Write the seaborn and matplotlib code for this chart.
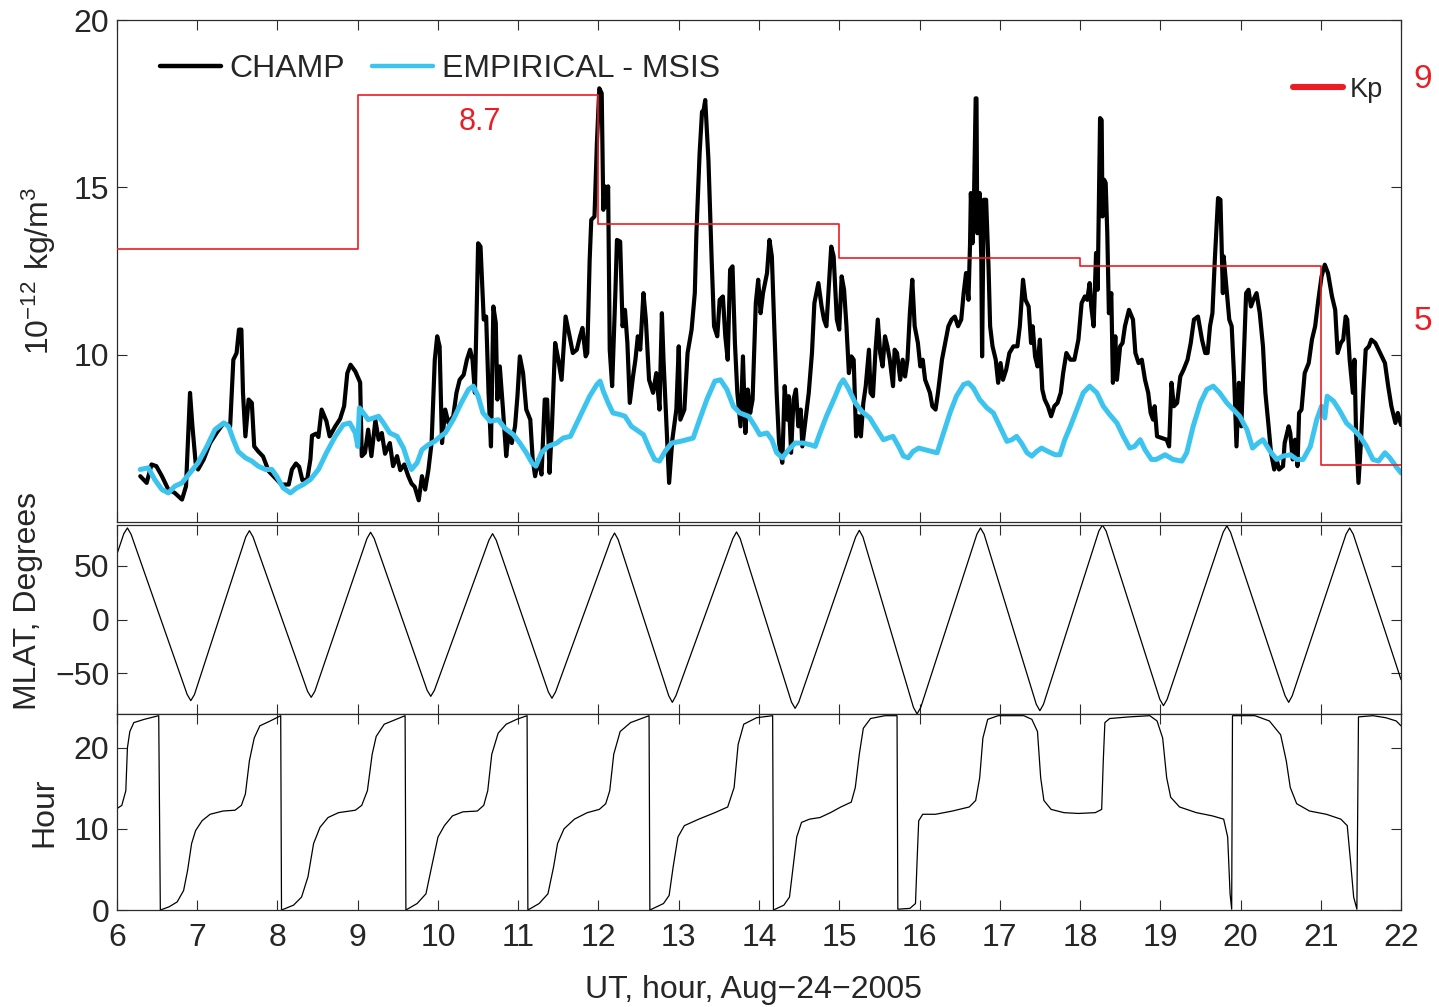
import matplotlib
matplotlib.use("Agg")
import matplotlib.pyplot as plt
import numpy as np
import pandas as pd
import seaborn as sns

# ---------------------------------------------------------------- data
# CHAMP accelerometer density (UT hour, 1e-12 kg/m^3)
champ_points = [
    (6.29, 6.37), (6.37, 6.17), (6.43, 6.72), (6.49, 6.67), (6.56, 6.37), (6.64, 5.97),
    (6.72, 5.87), (6.81, 5.67), (6.86, 6.07), (6.91, 8.86), (6.94, 7.86), (6.98, 6.77),
    (7.01, 6.57), (7.08, 6.87), (7.16, 7.36), (7.24, 7.66), (7.33, 7.96), (7.41, 7.86),
    (7.45, 9.85), (7.49, 10.05), (7.52, 10.75), (7.55, 10.75), (7.57, 8.86), (7.60, 7.56),
    (7.64, 8.66), (7.68, 8.56), (7.71, 7.26), (7.76, 7.11), (7.82, 6.96), (7.89, 6.52),
    (7.97, 6.32), (8.05, 6.12), (8.14, 6.12), (8.18, 6.57), (8.23, 6.75), (8.27, 6.65),
    (8.31, 6.25), (8.37, 6.27), (8.41, 6.87), (8.43, 7.58), (8.48, 7.64), (8.51, 7.54),
    (8.55, 8.36), (8.61, 8.01), (8.65, 7.56), (8.72, 7.86), (8.78, 8.08), (8.83, 8.46),
    (8.87, 9.45), (8.91, 9.70), (8.97, 9.50), (9.03, 9.17), (9.05, 6.97), (9.09, 7.07),
    (9.13, 7.76), (9.17, 6.97), (9.22, 8.04), (9.26, 7.46), (9.30, 7.66), (9.34, 7.04),
    (9.40, 7.36), (9.44, 6.67), (9.49, 6.97), (9.53, 6.55), (9.58, 6.72), (9.63, 6.37),
    (9.67, 6.15), (9.71, 6.05), (9.76, 5.65), (9.80, 6.37), (9.84, 5.97), (9.88, 6.55),
    (9.92, 7.36), (9.96, 9.85), (9.99, 10.55), (10.02, 10.25), (10.05, 7.36), (10.09, 8.36),
    (10.13, 7.96), (10.19, 8.16), (10.23, 8.86), (10.27, 9.25), (10.32, 9.40), (10.36, 9.85),
    (10.40, 10.15), (10.43, 9.85), (10.46, 8.86), (10.50, 13.33), (10.53, 13.23), (10.57, 11.05),
    (10.60, 11.14), (10.63, 8.86), (10.66, 7.26), (10.69, 11.44), (10.72, 10.95), (10.74, 8.66),
    (10.77, 9.65), (10.81, 8.36), (10.85, 6.97), (10.88, 7.66), (10.92, 7.36), (10.96, 7.86),
    (10.99, 8.76), (11.02, 9.95), (11.06, 9.45), (11.10, 8.36), (11.15, 8.06), (11.18, 6.87),
    (11.21, 6.37), (11.25, 6.87), (11.29, 6.42), (11.33, 8.66), (11.36, 8.66), (11.39, 6.47),
    (11.42, 7.86), (11.46, 10.35), (11.50, 9.85), (11.54, 9.25), (11.59, 11.14), (11.64, 10.55),
    (11.68, 10.05), (11.73, 10.15), (11.77, 10.55), (11.80, 10.80), (11.84, 9.95), (11.86, 10.05),
    (11.89, 12.84), (11.91, 14.03), (11.95, 14.13), (11.98, 16.32), (12.01, 17.96), (12.04, 17.81),
    (12.06, 14.33), (12.08, 15.03), (12.10, 14.43), (12.12, 15.03), (12.14, 10.15), (12.17, 9.06),
    (12.21, 11.84), (12.23, 13.43), (12.27, 13.38), (12.30, 10.85), (12.33, 11.34), (12.36, 10.35),
    (12.39, 8.56), (12.43, 9.35), (12.46, 9.85), (12.49, 10.55), (12.52, 10.15), (12.56, 11.84),
    (12.59, 11.05), (12.63, 9.25), (12.68, 8.86), (12.72, 9.45), (12.76, 8.36), (12.79, 11.24),
    (12.81, 9.85), (12.84, 8.26), (12.88, 6.17), (12.92, 7.46), (12.97, 8.36), (13.00, 10.25),
    (13.02, 8.06), (13.07, 8.36), (13.11, 10.05), (13.16, 10.75), (13.20, 11.84), (13.22, 13.63),
    (13.26, 16.02), (13.29, 17.26), (13.31, 17.31), (13.33, 17.61), (13.37, 15.82), (13.41, 12.84),
    (13.44, 10.85), (13.48, 10.55), (13.51, 11.64), (13.55, 11.74), (13.58, 10.55), (13.61, 9.85),
    (13.64, 12.54), (13.67, 12.64), (13.70, 10.35), (13.73, 8.86), (13.77, 7.86), (13.80, 9.95),
    (13.83, 7.66), (13.86, 8.96), (13.89, 8.26), (13.92, 8.66), (13.96, 11.54), (13.99, 12.24),
    (14.02, 11.24), (14.05, 11.84), (14.10, 12.44), (14.13, 13.43), (14.16, 12.94), (14.19, 10.85),
    (14.22, 8.86), (14.25, 7.36), (14.29, 6.77), (14.32, 9.06), (14.35, 8.06), (14.37, 8.76),
    (14.40, 7.07), (14.43, 8.66), (14.46, 8.96), (14.49, 7.86), (14.52, 8.36), (14.54, 7.26),
    (14.57, 7.86), (14.62, 8.86), (14.66, 10.05), (14.69, 11.54), (14.74, 12.14), (14.78, 11.44),
    (14.81, 11.05), (14.84, 10.85), (14.87, 12.04), (14.90, 13.23), (14.93, 12.94), (14.97, 11.05),
    (15.00, 10.75), (15.03, 12.34), (15.06, 11.94), (15.09, 10.85), (15.12, 9.45), (15.15, 9.95),
    (15.18, 9.85), (15.21, 7.56), (15.24, 8.16), (15.27, 7.56), (15.30, 8.56), (15.33, 9.06),
    (15.37, 10.15), (15.39, 8.86), (15.42, 8.76), (15.45, 10.05), (15.48, 11.05), (15.51, 10.05),
    (15.54, 9.65), (15.57, 10.55), (15.60, 10.25), (15.63, 9.85), (15.67, 9.06), (15.69, 10.15),
    (15.72, 10.05), (15.76, 9.25), (15.79, 9.85), (15.82, 9.35), (15.85, 9.85), (15.88, 11.24),
    (15.91, 12.24), (15.94, 10.85), (15.98, 10.35), (16.01, 9.65), (16.04, 9.85), (16.07, 9.25),
    (16.10, 9.06), (16.13, 8.86), (16.16, 8.46), (16.20, 8.36), (16.23, 8.86), (16.28, 9.85),
    (16.32, 10.35), (16.36, 10.85), (16.40, 11.05), (16.44, 11.14), (16.48, 10.85), (16.52, 11.05),
    (16.55, 11.84), (16.58, 12.44), (16.61, 11.64), (16.63, 13.33), (16.64, 14.83), (16.66, 13.33),
    (16.68, 14.83), (16.70, 17.66), (16.71, 17.66), (16.72, 13.63), (16.75, 14.83), (16.77, 12.84),
    (16.78, 9.95), (16.80, 14.63), (16.83, 14.63), (16.86, 12.64), (16.88, 10.85), (16.91, 10.25),
    (16.95, 9.85), (16.98, 9.16), (17.01, 9.75), (17.04, 9.25), (17.08, 9.55), (17.12, 10.05),
    (17.17, 10.25), (17.22, 10.25), (17.25, 10.85), (17.29, 12.24), (17.32, 11.64), (17.36, 11.44),
    (17.39, 10.35), (17.41, 10.85), (17.44, 9.95), (17.47, 9.65), (17.50, 10.45), (17.53, 8.96),
    (17.56, 8.66), (17.60, 8.46), (17.64, 8.16), (17.68, 8.46), (17.72, 8.56), (17.76, 8.86),
    (17.79, 9.45), (17.83, 10.05), (17.88, 9.85), (17.93, 9.85), (17.98, 10.45), (18.02, 11.54),
    (18.06, 11.74), (18.09, 11.64), (18.12, 12.14), (18.14, 11.44), (18.17, 10.85), (18.20, 13.04),
    (18.22, 11.94), (18.25, 17.07), (18.27, 17.01), (18.28, 14.13), (18.30, 15.23), (18.32, 15.13),
    (18.34, 13.63), (18.36, 11.24), (18.39, 11.84), (18.41, 9.16), (18.44, 10.55), (18.46, 9.25),
    (18.50, 10.25), (18.53, 10.35), (18.56, 10.85), (18.61, 11.34), (18.66, 11.05), (18.69, 10.05),
    (18.73, 9.75), (18.77, 9.85), (18.81, 9.25), (18.85, 8.86), (18.88, 8.26), (18.91, 8.06),
    (18.93, 8.46), (18.96, 7.56), (19.02, 7.51), (19.08, 7.46), (19.11, 7.26), (19.14, 9.16),
    (19.17, 8.46), (19.21, 8.56), (19.25, 9.35), (19.29, 9.55), (19.34, 9.85), (19.38, 10.35),
    (19.42, 11.05), (19.47, 11.14), (19.52, 10.45), (19.56, 10.05), (19.59, 10.05), (19.62, 10.85),
    (19.65, 11.24), (19.68, 12.84), (19.72, 14.68), (19.75, 14.63), (19.78, 11.84), (19.79, 12.94),
    (19.83, 11.84), (19.86, 11.05), (19.89, 10.85), (19.92, 9.35), (19.95, 7.26), (19.98, 9.16),
    (20.01, 7.86), (20.04, 9.85), (20.07, 11.84), (20.10, 11.94), (20.13, 11.44), (20.16, 11.64),
    (20.20, 11.84), (20.24, 11.24), (20.28, 10.25), (20.31, 8.86), (20.35, 7.86), (20.38, 7.07),
    (20.42, 6.57), (20.45, 6.87), (20.48, 6.57), (20.53, 6.67), (20.55, 7.36), (20.60, 7.86),
    (20.62, 7.66), (20.65, 6.87), (20.68, 7.46), (20.71, 6.67), (20.73, 8.26), (20.76, 8.36),
    (20.80, 9.45), (20.85, 9.75), (20.89, 10.45), (20.93, 10.85), (20.97, 11.64), (21.01, 12.34),
    (21.05, 12.69), (21.09, 12.44), (21.14, 11.74), (21.18, 11.34), (21.21, 10.05), (21.25, 10.35),
    (21.28, 10.45), (21.31, 11.14), (21.33, 11.05), (21.36, 9.85), (21.40, 8.86), (21.42, 9.85),
    (21.44, 7.66), (21.47, 6.17), (21.50, 7.36), (21.53, 8.86), (21.56, 10.15), (21.60, 10.25),
    (21.63, 10.45), (21.68, 10.35), (21.72, 10.15), (21.76, 9.95), (21.80, 9.75), (21.84, 9.06),
    (21.88, 8.46), (21.93, 7.96), (21.96, 8.26), (22.00, 7.90),
]

# Empirical MSIS density along the orbit (UT hour, 1e-12 kg/m^3)
msis_points = [
    (6.29, 6.57), (6.39, 6.62), (6.47, 6.27), (6.56, 5.97), (6.64, 5.87), (6.72, 6.07),
    (6.81, 6.17), (6.91, 6.47), (7.01, 6.77), (7.12, 7.26), (7.22, 7.76), (7.33, 7.96),
    (7.39, 7.86), (7.45, 7.46), (7.51, 7.11), (7.60, 6.92), (7.68, 6.82), (7.76, 6.67),
    (7.85, 6.57), (7.93, 6.57), (7.99, 6.37), (8.07, 6.02), (8.16, 5.87), (8.24, 6.02),
    (8.32, 6.12), (8.41, 6.27), (8.51, 6.57), (8.61, 7.07), (8.72, 7.56), (8.82, 7.91),
    (8.90, 7.96), (8.97, 7.66), (9.00, 7.26), (9.02, 8.41), (9.07, 8.26), (9.13, 8.06),
    (9.20, 8.11), (9.26, 8.16), (9.32, 7.96), (9.40, 7.66), (9.49, 7.56), (9.57, 7.21),
    (9.63, 6.77), (9.67, 6.57), (9.74, 6.77), (9.80, 7.16), (9.88, 7.31), (9.96, 7.41),
    (10.03, 7.56), (10.09, 7.66), (10.19, 8.06), (10.29, 8.56), (10.38, 8.96), (10.44, 9.06),
    (10.50, 8.76), (10.56, 8.26), (10.65, 8.01), (10.75, 8.06), (10.83, 7.81), (10.94, 7.61),
    (11.02, 7.36), (11.10, 7.07), (11.17, 6.77), (11.22, 6.67), (11.29, 7.07), (11.37, 7.26),
    (11.48, 7.36), (11.56, 7.51), (11.65, 7.56), (11.73, 7.96), (11.81, 8.36), (11.89, 8.76),
    (11.98, 9.11), (12.02, 9.21), (12.06, 8.91), (12.12, 8.56), (12.18, 8.26), (12.27, 8.21),
    (12.33, 8.16), (12.41, 7.86), (12.50, 7.71), (12.56, 7.61), (12.64, 7.16), (12.70, 6.87),
    (12.76, 6.82), (12.83, 7.11), (12.91, 7.36), (13.02, 7.41), (13.10, 7.46), (13.18, 7.51),
    (13.26, 8.06), (13.35, 8.66), (13.45, 9.21), (13.52, 9.25), (13.60, 8.96), (13.68, 8.46),
    (13.76, 8.26), (13.87, 8.16), (13.95, 7.86), (14.01, 7.61), (14.10, 7.66), (14.16, 7.46),
    (14.22, 7.07), (14.29, 6.92), (14.37, 7.16), (14.45, 7.36), (14.55, 7.36), (14.64, 7.31),
    (14.70, 7.26), (14.76, 7.66), (14.84, 8.16), (14.95, 8.76), (15.01, 9.11), (15.05, 9.25),
    (15.11, 9.01), (15.20, 8.56), (15.28, 8.31), (15.38, 8.11), (15.47, 7.76), (15.55, 7.46),
    (15.61, 7.51), (15.67, 7.56), (15.74, 7.26), (15.80, 6.97), (15.86, 6.92), (15.92, 7.11),
    (15.99, 7.21), (16.07, 7.16), (16.15, 7.11), (16.22, 7.07), (16.30, 7.66), (16.38, 8.26),
    (16.46, 8.76), (16.55, 9.11), (16.61, 9.16), (16.67, 9.01), (16.75, 8.66), (16.84, 8.41),
    (16.92, 8.26), (17.00, 7.86), (17.09, 7.41), (17.15, 7.46), (17.21, 7.56), (17.27, 7.36),
    (17.34, 7.07), (17.40, 6.97), (17.46, 7.11), (17.52, 7.21), (17.60, 7.11), (17.69, 7.01),
    (17.75, 7.01), (17.81, 7.46), (17.88, 7.86), (17.96, 8.36), (18.04, 8.86), (18.12, 9.06),
    (18.21, 8.86), (18.29, 8.46), (18.37, 8.21), (18.46, 7.96), (18.54, 7.56), (18.62, 7.21),
    (18.68, 7.26), (18.75, 7.46), (18.81, 7.16), (18.89, 6.87), (18.95, 6.87), (19.06, 7.01),
    (19.16, 6.87), (19.27, 6.82), (19.33, 7.07), (19.41, 7.86), (19.50, 8.56), (19.58, 8.96),
    (19.66, 9.06), (19.74, 8.86), (19.83, 8.56), (19.91, 8.36), (19.99, 8.16), (20.08, 7.76),
    (20.15, 7.21), (20.22, 7.36), (20.28, 7.46), (20.37, 7.11), (20.45, 6.87), (20.53, 6.97),
    (20.62, 7.01), (20.70, 6.87), (20.78, 6.87), (20.87, 7.26), (20.95, 8.06), (21.01, 8.46),
    (21.05, 8.11), (21.08, 8.76), (21.16, 8.61), (21.24, 8.31), (21.32, 7.96), (21.41, 7.76),
    (21.49, 7.56), (21.57, 7.26), (21.65, 6.87), (21.72, 6.82), (21.80, 7.07), (21.86, 6.92),
    (21.95, 6.62), (22.00, 6.47),
]

# 3-hourly Kp index (start of interval, value); last entry closes the final step
kp_hour = [6, 9, 12, 15, 18, 21, 22]
kp_value = [6.15, 8.7, 6.55, 6.0, 5.87, 2.57, 2.57]

# Magnetic latitude of the satellite (UT hour, degrees)
mlat_points = [
    (6.00, 61.0), (6.085, 80.0), (6.13, 85.3), (6.175, 79.5),
    (6.875, -70.0), (6.92, -75.6), (6.965, -70.0),
    (7.605, 77.0), (7.65, 82.8), (7.695, 77.0),
    (8.375, -67.0), (8.42, -72.5), (8.465, -67.0),
    (9.115, 75.5), (9.16, 81.3), (9.205, 75.5),
    (9.865, -66.0), (9.91, -71.6), (9.955, -66.0),
    (10.635, 74.0), (10.68, 80.0), (10.725, 74.0),
    (11.375, -67.5), (11.42, -73.4), (11.465, -67.5),
    (12.155, 74.5), (12.20, 80.6), (12.245, 74.5),
    (12.875, -71.0), (12.92, -77.2), (12.965, -71.0),
    (13.675, 75.5), (13.72, 81.6), (13.765, 75.5),
    (14.405, -77.0), (14.45, -82.8), (14.495, -77.0),
    (15.205, 77.0), (15.25, 83.1), (15.295, 77.0),
    (15.925, -82.0), (15.97, -88.0), (16.015, -82.0),
    (16.715, 79.5), (16.76, 85.3), (16.805, 79.5),
    (17.455, -79.0), (17.50, -85.0), (17.545, -79.0),
    (18.235, 82.5), (18.28, 88.0), (18.325, 82.5),
    (18.995, -74.5), (19.04, -80.3), (19.085, -74.5),
    (19.785, 81.5), (19.83, 87.3), (19.875, 81.5),
    (20.555, -71.0), (20.60, -77.2), (20.645, -71.0),
    (21.315, 79.5), (21.36, 85.3), (21.405, 79.5),
    (22.00, -56.0),
]

# Magnetic local time of the satellite (UT hour, hour)
mlt_points = [
    (6.00, 12.5), (6.06, 12.9), (6.11, 14.7), (6.13, 20.0), (6.16, 22.0), (6.21, 23.1),
    (6.34, 23.5), (6.52, 23.95), (6.54, 0.0), (6.65, 0.4), (6.75, 1.0), (6.83, 2.4),
    (6.88, 4.9), (6.93, 8.2), (6.98, 9.8), (7.06, 11.0), (7.16, 11.8), (7.32, 12.2),
    (7.47, 12.3), (7.55, 12.9), (7.60, 14.3), (7.65, 18.4), (7.71, 21.2), (7.78, 22.7),
    (7.91, 23.3), (8.04, 23.95), (8.05, 0.0), (8.20, 0.6), (8.30, 1.6), (8.38, 4.1),
    (8.45, 8.2), (8.53, 10.2), (8.63, 11.4), (8.76, 12.0), (8.97, 12.3), (9.05, 12.9),
    (9.12, 14.7), (9.18, 19.2), (9.23, 21.4), (9.33, 22.9), (9.48, 23.5), (9.59, 23.95),
    (9.60, 0.0), (9.74, 0.8), (9.85, 2.0), (9.92, 5.3), (10.00, 9.0), (10.08, 10.4),
    (10.18, 11.6), (10.31, 12.1), (10.49, 12.2), (10.57, 12.9), (10.62, 14.7), (10.67, 19.2),
    (10.75, 21.8), (10.85, 22.9), (10.98, 23.5), (11.11, 23.95), (11.12, 0.0), (11.26, 0.8),
    (11.37, 2.0), (11.44, 5.3), (11.49, 8.2), (11.57, 10.0), (11.70, 11.2), (11.86, 12.0),
    (12.01, 12.4), (12.09, 13.1), (12.14, 14.7), (12.19, 19.2), (12.27, 22.0), (12.40, 23.1),
    (12.63, 23.95), (12.64, 0.0), (12.81, 0.8), (12.88, 1.8), (12.93, 5.3), (12.99, 9.0),
    (13.07, 10.4), (13.25, 11.2), (13.45, 12.0), (13.61, 12.7), (13.69, 15.1), (13.74, 20.4),
    (13.81, 22.9), (13.97, 23.7), (14.17, 23.95), (14.18, 0.0), (14.31, 0.6), (14.38, 1.6),
    (14.42, 4.9), (14.47, 9.0), (14.53, 10.8), (14.63, 11.2), (14.76, 11.4), (14.89, 12.0),
    (15.02, 12.7), (15.15, 13.3), (15.20, 15.1), (15.25, 19.2), (15.30, 22.4), (15.39, 23.6),
    (15.57, 23.95), (15.72, 23.95), (15.73, 0.1), (15.88, 0.2), (15.95, 0.8), (15.97, 6.1),
    (15.99, 11.0), (16.04, 11.8), (16.20, 11.8), (16.41, 12.2), (16.62, 12.7), (16.70, 13.5),
    (16.75, 16.3), (16.79, 21.2), (16.85, 23.5), (16.98, 23.95), (17.30, 23.95), (17.40, 23.5),
    (17.47, 22.0), (17.51, 16.3), (17.55, 13.5), (17.64, 12.4), (17.80, 12.0), (17.98, 11.9),
    (18.19, 12.0), (18.27, 12.4), (18.29, 18.4), (18.31, 23.1), (18.37, 23.6), (18.61, 23.8),
    (18.87, 23.95), (18.96, 23.3), (19.03, 21.2), (19.08, 16.3), (19.13, 13.9), (19.24, 12.7),
    (19.45, 12.0), (19.65, 11.6), (19.79, 11.2), (19.84, 9.0), (19.87, 2.0), (19.89, 0.1),
    (19.90, 23.95), (20.18, 23.95), (20.36, 23.3), (20.50, 21.6), (20.57, 18.4), (20.62, 15.1),
    (20.70, 13.1), (20.86, 12.2), (21.07, 11.8), (21.25, 11.2), (21.33, 10.4), (21.37, 6.1),
    (21.41, 1.6), (21.45, 0.1), (21.47, 23.8), (21.65, 23.95), (21.81, 23.7), (21.94, 23.3),
    (22.00, 22.7),
]

hour_ticks = list(range(6, 23))
rho_ticks = [10, 15, 20]
mlat_ticks = [-50, 0, 50]
mlt_ticks = [0, 10, 20]
kp_ticks = [5, 9]

# ---------------------------------------------------------------- style
sns.set_style("ticks")
plt.rcParams["font.family"] = ["Liberation Sans", "DejaVu Sans"]
plt.rcParams["axes.edgecolor"] = "#2b2b2b"
plt.rcParams["axes.linewidth"] = 0.9
plt.rcParams["axes.unicode_minus"] = True

BLACK = "#000000"
BLUE = "#3cc4ef"
RED = "#ec1c24"
FS = 23

champ = pd.DataFrame(champ_points, columns=["ut", "density"])
msis = pd.DataFrame(msis_points, columns=["ut", "density"])
kp = pd.DataFrame({"ut": kp_hour, "kp": kp_value})
mlat = pd.DataFrame(mlat_points, columns=["ut", "mlat"])
mlt = pd.DataFrame(mlt_points, columns=["ut", "mlt"])

fig = plt.figure(figsize=(14.39, 10.07), dpi=100)
left, width = 0.0813, 0.8923
ax_rho = fig.add_axes([left, 0.4816, width, 0.4985])
ax_lat = fig.add_axes([left, 0.2905, width, 0.1886])
ax_lt = fig.add_axes([left, 0.0963, width, 0.1942])

# ---------------------------------------------------------------- density panel
sns.lineplot(data=champ, x="ut", y="density", ax=ax_rho, color=BLACK, linewidth=3.0,
             estimator=None, sort=False, label="CHAMP")
sns.lineplot(data=msis, x="ut", y="density", ax=ax_rho, color=BLUE, linewidth=3.6,
             estimator=None, sort=False, label="EMPIRICAL - MSIS")
ax_rho.set_ylim(5, 20)

ax_kp = ax_rho.twinx()
sns.lineplot(data=kp, x="ut", y="kp", ax=ax_kp, color=RED, linewidth=1.2,
             estimator=None, sort=False, drawstyle="steps-post", label="Kp")
ax_kp.set_ylim(1.623, 9.934)
ax_kp.set_yticks(kp_ticks)
ax_kp.set_yticklabels([str(v) for v in kp_ticks])
ax_kp.tick_params(axis="y", length=0, pad=9, labelsize=24, labelcolor=RED)
ax_kp.set_ylabel("")
for sp in ax_kp.spines.values():
    sp.set_visible(False)
ax_kp.text(10.52, 8.25, f"{kp_value[1]:.1f}", color=RED, fontsize=22,
           ha="center", va="center")

leg = ax_rho.legend(loc="center left", bbox_to_anchor=(0.0335, 0.902), ncol=2,
                    frameon=False, fontsize=FS, borderpad=0, borderaxespad=0,
                    handlelength=1.9, handletextpad=0.28, columnspacing=0.84)
for h in leg.legend_handles:
    h.set_linewidth(3.2)

kleg = ax_kp.legend(loc="center left", bbox_to_anchor=(0.9159, 0.861),
                    frameon=False, fontsize=19.5, borderpad=0, borderaxespad=0,
                    handlelength=1.85, handletextpad=0.26)
for h in kleg.legend_handles:
    h.set_linewidth(4.4)

ax_rho.set_yticks(rho_ticks)
ax_rho.set_ylabel(r"$\mathregular{10^{-12}\ kg/m^{3}}$", fontsize=FS)
ax_rho.yaxis.set_label_coords(-0.046, 0.5)

# ---------------------------------------------------------------- MLAT panel
sns.lineplot(data=mlat, x="ut", y="mlat", ax=ax_lat, color=BLACK, linewidth=0.9,
             estimator=None, sort=False)
ax_lat.set_ylim(-88.5, 88.5)
ax_lat.set_yticks(mlat_ticks)
ax_lat.set_ylabel("MLAT, Degrees", fontsize=FS)
ax_lat.yaxis.set_label_coords(-0.058, 0.60)

# ---------------------------------------------------------------- MLT panel
sns.lineplot(data=mlt, x="ut", y="mlt", ax=ax_lt, color=BLACK, linewidth=0.9,
             estimator=None, sort=False)
ax_lt.set_ylim(0, 24.1)
ax_lt.set_yticks(mlt_ticks)
ax_lt.set_ylabel("Hour", fontsize=FS)
ax_lt.yaxis.set_label_coords(-0.045, 0.5)
ax_lt.set_xlabel("UT, hour, Aug\u221224\u22122005", fontsize=FS)
ax_lt.xaxis.set_label_coords(0.496, -0.33)

# ---------------------------------------------------------------- shared axis styling
for ax in (ax_rho, ax_lat, ax_lt):
    ax.set_xlim(6, 22)
    ax.set_xticks(hour_ticks)
    ax.tick_params(direction="in", length=7, width=0.8, top=True, right=True,
                   left=True, bottom=True, labelsize=FS, color="#2b2b2b")
    ax.tick_params(axis="x", pad=9)
    ax.tick_params(axis="y", pad=5.5)
    for sp in ax.spines.values():
        sp.set_visible(True)
        sp.set_linewidth(0.9)
for ax in (ax_rho, ax_lat):
    ax.tick_params(labelbottom=False)
    ax.set_xlabel("")

fig.savefig("out.png", dpi=100)
